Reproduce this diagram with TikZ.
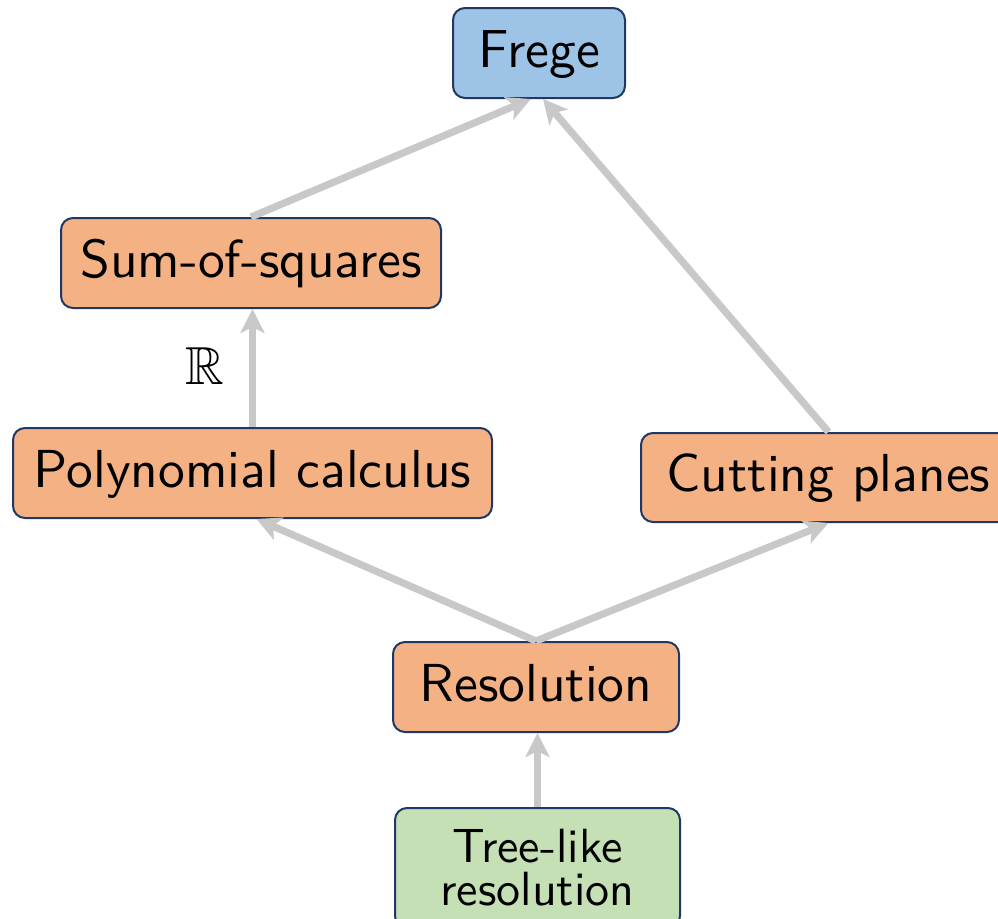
\documentclass[tikz,border=0pt]{standalone}
\usepackage{fontspec}
\usepackage{amssymb}
\newfontfamily\lmssten{lmsans10-regular.otf}
\usetikzlibrary{arrows.meta}
\definecolor{bord}{HTML}{203864}
\definecolor{fblue}{HTML}{9DC3E6}
\definecolor{forange}{HTML}{F4B183}
\definecolor{fgreen}{HTML}{C5E0B4}
\definecolor{arr}{HTML}{C8C8C8}
\tikzset{
  basebox/.style={draw=bord, line width=1pt, rounded corners=6pt, inner sep=0pt,
    minimum height=45pt, align=center},
  box/.style={basebox, text height=19pt, text depth=5pt,
    font=\lmssten\fontsize{26.75}{31}\selectfont},
  link/.style={draw=arr, line width=3.6pt, -{Stealth[length=12pt,width=12pt,inset=3pt]}}
}
\begin{document}
\begin{tikzpicture}[x=0.5pt,y=-0.5pt]
\useasboundingbox (0,0) rectangle (998,918);
\node[box, fill=fblue, minimum width=86pt] (frege) at (539,53) {Frege};
\node[box, fill=forange, minimum width=190pt] (sos) at (251,263) {Sum-of-squares};
\node[box, fill=forange, minimum width=239.5pt] (pc) at (252.5,473) {Polynomial calculus};
\node[box, fill=forange, minimum width=187.5pt, minimum height=44.5pt] (cp) at (828.5,477.5) {Cutting planes};
\node[box, fill=forange, minimum width=143pt] (res) at (536,687) {Resolution};
\node[basebox, fill=fgreen, minimum width=142.5pt, minimum height=60pt,
  font=\lmssten\fontsize{24}{21.5}\selectfont] (tree) at (537.5,868) {Tree-like\\resolution};
\node[font=\fontsize{26.75}{31}\selectfont] (rlab) at (205,366) {$\mathbb{R}$};
\draw[link] (sos.north) -- ([xshift=-4pt]frege.south);
\draw[link] (cp.north) -- ([xshift=2pt]frege.south);
\draw[link] (pc.north) -- (pc.north |- sos.south);
\draw[link] (res.north) -- ([xshift=2pt]pc.south);
\draw[link] (res.north) -- (cp.south);
\draw[link] (tree.north) -- (tree.north |- res.south);
\end{tikzpicture}
\end{document}
